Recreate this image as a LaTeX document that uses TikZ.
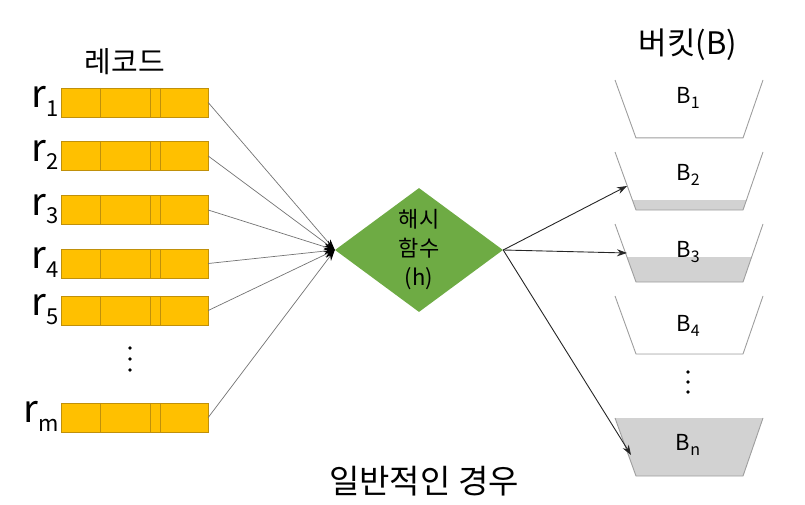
\documentclass[tikz,border=0pt]{standalone}
\usepackage{fontspec}
\setmainfont{Noto Sans CJK KR}
\usetikzlibrary{arrows.meta,positioning,shapes.geometric}

\definecolor{recfill}{HTML}{FFC000}
\definecolor{recedge}{HTML}{C0900A}
\definecolor{hashgreen}{HTML}{6EAB44}
\definecolor{bucketline}{HTML}{9E9E9E}
\definecolor{bucketfill}{HTML}{D2D2D2}

\newcommand{\rsub}[1]{\raisebox{-0.4ex}{\fontsize{22}{22}\selectfont #1}}
\newcommand{\bsub}[1]{\raisebox{-0.45ex}{\fontsize{16}{16}\selectfont #1}}

\tikzset{
  rec/.style={draw=recedge,fill=recfill,minimum width=147pt,minimum height=29pt,inner sep=0pt},
  reclab/.style={inner sep=0pt,font=\fontsize{38}{38}\selectfont},
  blab/.style={inner sep=0pt,font=\fontsize{22}{22}\selectfont},
  title/.style={inner sep=0pt,font=\fontsize{29}{29}\selectfont},
  bucket/.style={draw=bucketline,line width=0.9pt},
  inarrow/.style={-{Stealth[length=11pt,width=7pt,color=black]},draw=black!55,line width=0.7pt},
  outarrow/.style={->,draw=black!85,line width=0.9pt}
}

\begin{document}
\begin{tikzpicture}[x=1pt,y=-1pt,>={Stealth[length=10pt,width=7pt]}]
\useasboundingbox (0,0) rectangle (805,505);

% records
\node[title] (rechead) at (125,62) {레코드};
\foreach \i/\y in {1/102.5,2/156,3/210,4/263.5,5/310.5,m/417.5} {
  \node[rec] (r\i) at (134.5,\y) {};
  \foreach \dx in {39,89,99}
    \draw[recedge] ([xshift=\dx pt]r\i.north west) -- ([xshift=\dx pt]r\i.south west);
  \node[reclab,left=2pt of r\i,yshift=1pt] (rl\i) {r\rsub{\i}};
}
\foreach \y in {348,359,370}
  \fill (130,\y) circle (1.8);

% hash function
\node[diamond,fill=hashgreen,aspect=1.35,minimum width=168pt,minimum height=124pt,
  inner sep=0pt,align=center,font=\fontsize{22}{29}\selectfont] (hash) at (419,250)
  {해시\\함수\\(h)};

\foreach \i in {1,2,3,4,5,m}
  \draw[inarrow] (r\i.east) -- (hash.west);

% buckets
\node[title,font=\fontsize{31}{31}\selectfont] (bhead) at (688,45) {버킷(B)};
\foreach \n/\t/\lev/\ly in {1/80/0/98,2/152/10/175,3/224/25/252,4/296/0/326,n/418/58/445} {
  \begin{scope}
    \clip (600,\t+58-\lev) rectangle (780,\t+58);
    \fill[bucketfill] (615,\t) -- (636,\t+58) -- (743,\t+58) -- (763,\t) -- cycle;
  \end{scope}
  \draw[bucket] (615,\t) -- (636,\t+58) -- (743,\t+58) -- (763,\t);
  \node[blab] (b\n) at (688,\ly) {B\bsub{\n}};
}
\foreach \y in {372,382,392}
  \fill (688,\y) circle (1.8);

\coordinate (in2) at (627,186);
\coordinate (in3) at (627,253);
\coordinate (inn) at (631,455);
\foreach \k in {2,3,n}
  \draw[outarrow] (hash.east) -- (in\k);

\node[title,font=\fontsize{33}{33}\selectfont] (caption) at (424,481) {일반적인 경우};
\end{tikzpicture}
\end{document}
